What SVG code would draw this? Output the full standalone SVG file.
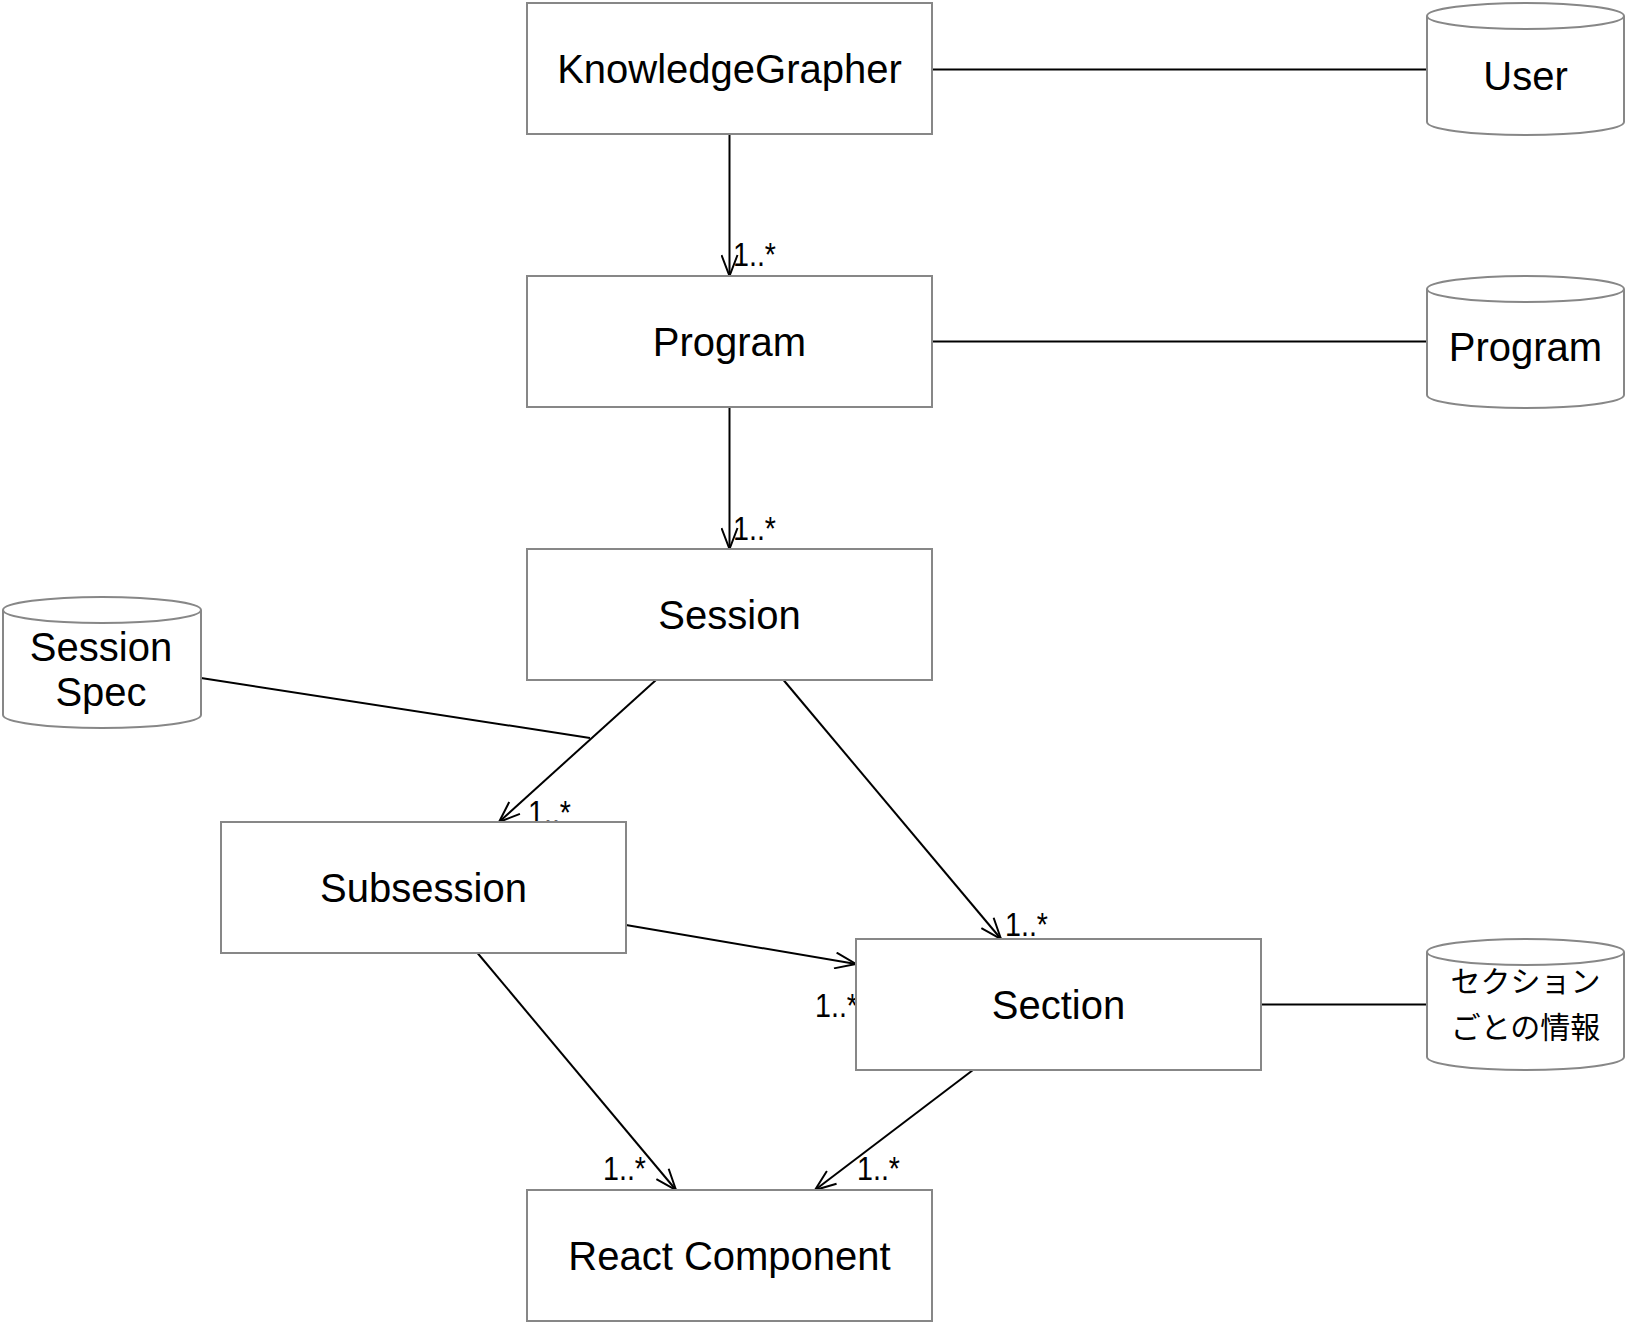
<svg xmlns="http://www.w3.org/2000/svg" width="1627" height="1325" viewBox="0 0 1627 1325">
<style>
.box{fill:#ffffff;stroke:#878787;stroke-width:2}
.lbl{font-family:"Liberation Sans",Arial,Helvetica,sans-serif;font-size:40px;fill:#000000;text-anchor:middle}
.jp{font-family:"Liberation Sans","Noto Sans CJK JP",sans-serif;font-size:30px;fill:#000000;text-anchor:middle}
.mult{font-family:"Liberation Sans",Arial,Helvetica,sans-serif;font-size:33px;fill:#000000}
.edge{fill:none;stroke:#000000;stroke-width:2}
.arr{marker-end:url(#open)}
</style>
<defs>
<marker id="open" viewBox="0 0 24 18" refX="22" refY="9" markerWidth="24" markerHeight="18" markerUnits="userSpaceOnUse" orient="auto">
<path d="M1,1 L22,9 L1,17" fill="none" stroke="#000000" stroke-width="2"/>
</marker>
</defs>
<rect width="1627" height="1325" fill="#ffffff"/>
<g id="connectors">
<line class="edge arr" x1="729.5" y1="134" x2="729.5" y2="276"/>
<line class="edge arr" x1="729.5" y1="407" x2="729.5" y2="549"/>
<line class="edge" x1="932" y1="69.5" x2="1427" y2="69.5"/>
<line class="edge" x1="932" y1="341.5" x2="1427" y2="341.5"/>
<line class="edge" x1="1261" y1="1004.5" x2="1427" y2="1004.5"/>
<line class="edge" x1="201" y1="678" x2="590" y2="738"/>
<line class="edge arr" x1="656" y1="680" x2="499" y2="822"/>
<line class="edge arr" x1="783.5" y1="680" x2="1001" y2="939"/>
<line class="edge arr" x1="626" y1="925" x2="856" y2="964"/>
<line class="edge arr" x1="477.5" y1="953" x2="676" y2="1190"/>
<line class="edge arr" x1="973" y1="1070" x2="815" y2="1190"/>
<text class="mult" x="733" y="266" textLength="43" lengthAdjust="spacingAndGlyphs">1..*</text>
<text class="mult" x="733" y="540" textLength="43" lengthAdjust="spacingAndGlyphs">1..*</text>
<text class="mult" x="528" y="824" textLength="43" lengthAdjust="spacingAndGlyphs">1..*</text>
<text class="mult" x="1005" y="936" textLength="43" lengthAdjust="spacingAndGlyphs">1..*</text>
<text class="mult" x="815" y="1017" textLength="43" lengthAdjust="spacingAndGlyphs">1..*</text>
<text class="mult" x="603" y="1180" textLength="43" lengthAdjust="spacingAndGlyphs">1..*</text>
<text class="mult" x="857" y="1180" textLength="43" lengthAdjust="spacingAndGlyphs">1..*</text>
</g>
<g id="knowledgegrapher">
<rect class="box" x="527" y="3" width="405" height="131"/>
<text class="lbl" x="729.5" y="83">KnowledgeGrapher</text>
</g>
<g id="program">
<rect class="box" x="527" y="276" width="405" height="131"/>
<text class="lbl" x="729.5" y="356">Program</text>
</g>
<g id="session">
<rect class="box" x="527" y="549" width="405" height="131"/>
<text class="lbl" x="729.5" y="629">Session</text>
</g>
<g id="subsession">
<rect class="box" x="221" y="822" width="405" height="131"/>
<text class="lbl" x="423.5" y="902">Subsession</text>
</g>
<g id="section">
<rect class="box" x="856" y="939" width="405" height="131"/>
<text class="lbl" x="1058.5" y="1019">Section</text>
</g>
<g id="react-component">
<rect class="box" x="527" y="1190" width="405" height="131"/>
<text class="lbl" x="729.5" y="1270">React Component</text>
</g>
<g id="user-db">
<path class="box" d="M1427,16 A98.5,13 0 0 1 1624,16 L1624,122 A98.5,13 0 0 1 1427,122 Z"/>
<path class="box" d="M1427,16 A98.5,13 0 0 0 1624,16" fill="none"/>
<text class="lbl" x="1525.5" y="90">User</text>
</g>
<g id="program-db">
<path class="box" d="M1427,289 A98.5,13 0 0 1 1624,289 L1624,395 A98.5,13 0 0 1 1427,395 Z"/>
<path class="box" d="M1427,289 A98.5,13 0 0 0 1624,289" fill="none"/>
<text class="lbl" x="1525.5" y="361">Program</text>
</g>
<g id="session-spec-db">
<path class="box" d="M3,610 A99,13 0 0 1 201,610 L201,715 A99,13 0 0 1 3,715 Z"/>
<path class="box" d="M3,610 A99,13 0 0 0 201,610" fill="none"/>
<text class="lbl" x="101" y="661">Session</text>
<text class="lbl" x="101" y="706">Spec</text>
</g>
<g id="section-info-db">
<path class="box" d="M1427,952 A98.5,13 0 0 1 1624,952 L1624,1057 A98.5,13 0 0 1 1427,1057 Z"/>
<path class="box" d="M1427,952 A98.5,13 0 0 0 1624,952" fill="none"/>
<text class="jp" x="1525.5" y="992">セクション</text>
<text class="jp" x="1525.5" y="1038">ごとの情報</text>
</g>
</svg>
